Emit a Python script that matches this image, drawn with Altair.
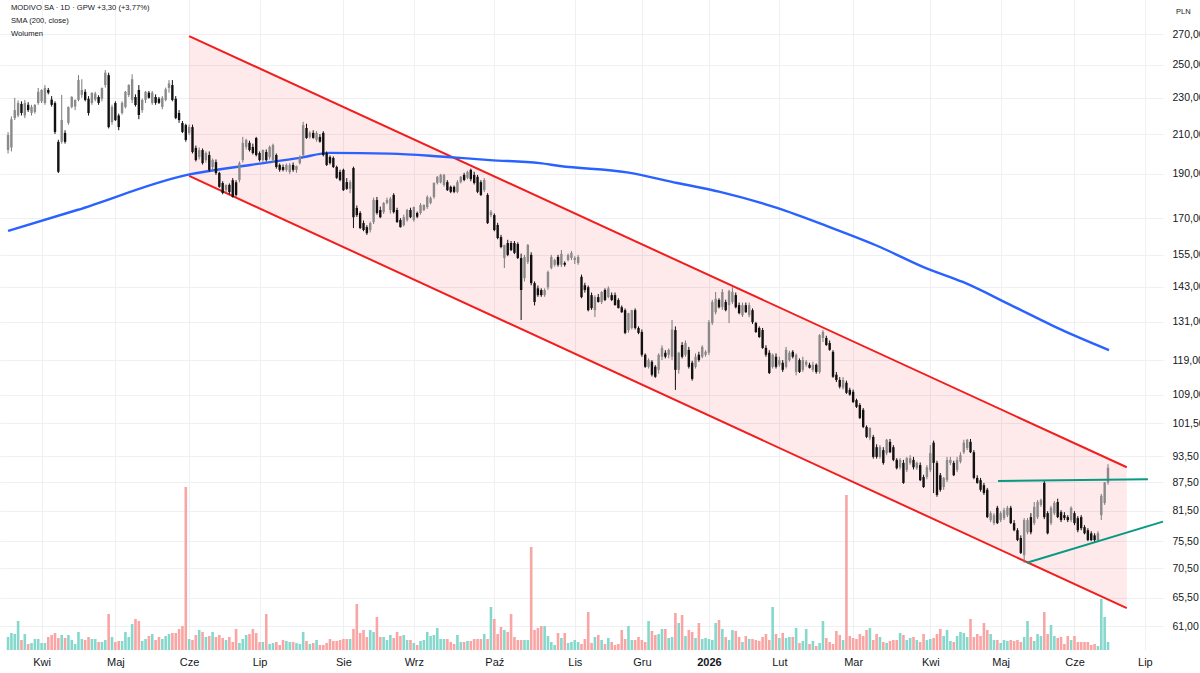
import json
import altair as alt
import pandas as pd

# ---------------- data ----------------
opens = [201.7,203,218.6,220,226.5,220,226,221.4,222,227,228,227,234.6,229,227,205.9,206,210.6,216,224.8,
225,228.8,231.7,233.5,229.5,227,229,230.5,229.5,237.5,243.5,216.4,227,220,221.4,224.8,231.7,228.8,230.5,234.6,
223,228.8,233,227,230.5,229.5,224.8,228.8,235.8,237.5,229.5,221.4,215.9,214.8,210.6,213.7,202.8,198.2,201.7,196.7,
199.2,193.3,195.7,190.4,185.7,182.4,184.8,187,186,187.1,196.7,203.3,205.4,203.3,207.9,200.2,196.7,200.7,198.2,196.7,
199.2,194.3,193.3,191.9,190.9,194.3,191.9,195.2,199.2,213.2,208.5,210.6,207,208.5,210.6,200.2,198.2,197.7,193.3,190.9,
191.9,186.1,183,192.8,174.4,172.2,167.9,166.2,165,168.3,177.9,173.5,172.6,176.6,173.5,180.2,173.5,169.2,167,169.2,
173.5,169.2,172.2,172.2,173.5,174.8,176.6,179.3,185.7,186,184.8,186.1,183.9,183.9,181.6,186.1,189.5,188.1,191.9,189.5,
188.6,186.1,182.4,180.2,171.3,171.3,167.1,162.1,153.8,159.7,159.7,159.7,159.3,153.8,146.2,152.3,155,144.4,142.5,141.9,
140.1,142.9,150,151.2,154.2,151.2,151.9,153,153.8,153,151.9,146.7,143.6,142.9,140.1,134.9,139.4,137.7,141.9,139.4,
140.1,140.1,138.4,135.9,134.9,128.3,129,134.9,129,127.7,120.6,117,118.5,117,116.1,120,121.2,120.6,120,128.3,
116.1,123.6,120.6,122.1,118.2,117,120.6,120,120.6,121.2,130.6,134.2,138.4,135.9,137.7,136.6,137.7,140.1,136.6,133.2,
136.6,133.2,134.9,130.6,129,128.3,122.7,121.2,117,120,117.6,118.2,117,119,121.5,115.5,119,116.1,117.6,117.6,
116.1,117.6,115.5,125.8,125.8,124.2,121.5,114.7,113.2,111,112.4,110.4,109.9,107.6,106.3,105,100.6,97.9,98.1,95.6,
93.3,94.9,94.2,96.9,95.6,92.6,90.9,91.9,90.3,91.9,92.6,90.7,91.4,88.7,88.7,90.3,96.7,91.9,89.1,86.5,
88,91.9,91.9,90.3,92.2,94.4,95.4,96.9,94.4,88.5,88,86.9,85.9,79.6,79,82.1,79.6,80,80.6,82.1,
79,77.6,76.1,72.9,77.2,80.2,79,80.2,82.7,87.4,81,79,81,83.3,81.2,80.6,80.2,79.6,81,80,
80.2,78.2,77.6,77,76.6,75.7,80.6,83.1,87.5]
highs = [211,219.5,230,228.5,228,228.8,227.5,226,226.5,235.8,235,237.5,235.8,231,228,207,231.7,212,225,231,
229,243.5,241,235,231,233,233.5,231.5,236,246.6,245,226,228,221,228,234,238,244,232,237.5,
229.5,234,234,234,232,230.5,231,236,240.5,240.5,231,223,217,215.5,215,215,204,203,202.5,201,
201,197.5,197,191,186.5,185,185.5,188,187,196,208.5,207.5,206.5,205,208.5,201,202,202,204,205,
200,195,194.5,195,195.2,195.5,194,199,216.5,215.5,211.5,212,211.5,210,211.5,201,199,198.5,194,192,
192.5,188,187,193.5,175.5,173,169,167,168.5,179,179.3,175,177,179,179.3,181,174.5,170,171.5,174,
174.5,175,172.8,176.5,176,180,179.5,186,189,190,190,187,184.5,184.5,187,189,190.5,191.5,192.5,191,
189.5,187,188,181,173.5,172,168,163,159,161,160.5,160.5,160,155.5,155,159.3,156,145,143.5,142.5,
142.5,149,155,153.5,155,156.9,152.5,155.5,156.5,154.5,155,147.5,144.5,143.5,141,140,140.5,141.5,142.5,143.2,
141,141,139,136.5,135.5,134,135,135.5,129.5,128.5,121,119.5,119,117.5,121,123.5,122,122.5,131.6,129.5,
121.5,124.5,125,123,118.8,121,121.5,123.5,122,131.6,138.4,141.2,139,142.2,138.5,142,142.9,141,137.5,137.5,
137.5,137.5,135.5,131,129.5,129,123.5,122,121,121,120,119,123,121.8,122,121,119.5,120,119,118.2,
118.5,118,127,128.3,126.5,125,122,115.5,114,114,113,111,110.5,108,106.8,105.5,101,100.5,98.6,96.3,
96.1,95.6,97.6,97.6,96.1,93,93,92.6,93.3,93.7,93.3,92.2,92,89.2,91.4,96.1,97.2,92.4,89.6,88.7,
93.3,93.3,92.4,93.3,94.4,97.4,97.6,97.6,94.9,89.1,88.5,87.4,86.3,81.4,81,82.5,81.4,82.1,82.5,82.5,
79.6,78,76.6,80,80,81,83.3,83.7,84,87.8,81.4,82.5,83.5,84,81.6,81.2,80.6,82.4,81.4,80.4,
80.6,78.6,78,77.4,77,77.4,85,87.6,91.6]
lows = [200,201,217.5,219,220,218.6,222,220,221,226,227,226,232,225,210,190.4,205,205,215,224,
223,228,230,228,220,226,228,226,228,236,213,215,217,212,220.5,224,230.5,227,225,218,
221.5,227,229.5,226,226,226.5,223.5,228,233,228,218,216,210.5,206,209.5,200,196,197,194.5,195.5,
191,192,189.5,183.5,180.5,181,180.5,179,179.5,186,195.5,202,201,199.5,198.5,196,195.5,196,197,195.5,
192.5,191,191.2,191,190,191,190.5,194.5,198,207.5,207.5,207.5,206,205.5,198.5,193.8,194.5,192.8,187.6,186.5,
182,182.5,181,165.8,170.5,165.4,164.5,163,164,167.5,171.5,170,171.8,176,172,172,168,166,166.5,168.5,
170,168.5,170,171.5,173,174,176,178.5,185,185.5,184,182,181,181,181,185.5,186.5,187.5,186.5,185,
181,179.7,181.5,167.5,170.4,164.5,161.2,157.6,150,154.5,156.5,155.3,153.4,131.6,145,151.5,143.6,136.5,139.5,139.5,
139.5,142,149.5,150.5,150.5,150.3,150.5,152.5,153,151.5,151.2,139,141,134.5,135,132.6,137.5,137,138,139,
138,136.5,135.5,134,127,127.5,128.5,128.5,127,120,116.7,116.5,114.2,113.8,115,119,119.5,119.5,119,110.4,
115,119.5,120,116.5,113,116.5,118.5,119.5,120,120.5,130,133.5,135.5,135,134.5,130.6,137,135.5,133.5,132.6,
134,132.5,130.3,127.4,125.8,122.4,120,114.9,116.5,116.5,117,115.5,116.5,118.5,119.5,114.5,115.2,115.5,117,116.5,
115.5,115,115,124.5,123.3,121.8,113.8,112.6,110.8,110.5,109.3,108.8,106.8,105.5,102.6,100.3,97.8,97.3,92.9,92.9,
92.9,91.5,93.7,94.2,92.3,90.4,90.4,87.2,89.8,91.5,90.4,90.3,87.8,86.3,88.2,89.8,85.2,84.4,85.5,85.9,
87.6,91.4,88.9,89.8,91.8,94,94.9,94.2,88.2,87.2,85.5,84.8,80,79.2,78.6,78.8,79.2,79.6,80.2,78.8,
77.4,75.5,73.1,71.5,76.8,76.8,78.6,79.8,82.3,79.8,76.8,78.6,80.6,80,79.2,79.6,79.2,79.2,78.6,77.2,
77.6,76.8,75.5,75.5,75.3,75.3,79.6,82.7,87]
closes = [209.5,218,223,227,221.4,227,223,224.8,225.9,233.5,234.6,235.8,233,226,211.1,191,217.5,205.9,224.8,230.5,
228.8,240.5,234.6,228.8,221.4,233,232.5,227.1,235.8,245,213.7,224.8,217.5,213.7,227.1,233.5,237.5,241,225.9,220.3,
228.8,233.5,230,233,227.1,227.1,230,235,238.5,228.8,218.6,217.5,211.1,206.9,213.7,200.7,196.7,201.7,195.2,200.2,
191.9,196.7,190.4,183.9,181.1,184.8,181.5,179.3,180.2,195.2,205.4,206.9,201.7,200.2,199.2,196.7,201.7,196.7,203.3,204.3,
193.3,191.9,191.9,194.3,194.3,191.9,193.8,198.2,214.8,207.9,210.6,208,210.6,206,199.2,194.3,195.2,193.3,188.1,187.1,
182.4,183,186.1,170.4,171.3,165.8,165,163.7,167.9,177.9,172.2,170.4,176.6,177.9,178.5,172.6,168.3,166.2,170.4,173.5,
170.4,174.8,170.6,175.7,175.7,179.3,178.8,185.7,188.6,189.5,189.5,182.4,181.6,181.6,186.1,188.6,187.1,190.9,187.5,185.7,
181.6,180.2,187.1,167.9,172.6,165,161.7,158.1,158.9,155,156.9,155.8,153.8,141.9,154.2,158.9,144.4,137.7,140.1,140.1,
141.9,148.5,154.2,153,151.2,155.4,151.2,155,155.8,153.8,154.2,139.4,141.9,134.9,135.6,139.4,137.7,141.2,138.4,142.5,
138.4,136.6,135.6,134.2,127.4,133.9,134.9,129,127.4,120.6,117,119,114.7,114.1,120.6,122.7,120,122.1,128.5,116.1,
121.2,120,124.2,117,113.5,120,119,123,121.5,130.9,137.7,138.8,135.9,141.2,134.9,141.5,141.2,135.9,133.9,136.6,
134.2,136.6,130.9,127.7,126.1,122.7,120.6,115.2,120.6,117,119,116.1,122.1,121.2,120,120.6,115.5,119,118.5,116.7,
117.6,115.5,126.7,127.7,123.6,122.1,114.1,113.2,111.3,113.2,109.6,109.1,107.1,105.8,102.9,100.6,98.1,100.3,93.3,93.3,
95.6,91.9,97.4,94.4,92.6,90.7,92.6,87.4,93,93,90.9,91.9,88,86.5,90.9,94.2,91.9,84.8,85.9,88.5,
92.6,92.6,89.1,92.6,93.7,96.7,97.4,94.4,88.5,87.4,85.9,85.2,80.2,81,80.6,79,81,81.6,82.1,79,
77.6,75.7,73.3,79.6,79.6,77.2,82.3,83.3,83.7,80.2,77,82.1,83.1,80.2,79.6,80,79.6,82.1,79,77.6,
78,77,75.7,75.7,75.7,77,84.6,87.5,90.8]
volumes = [13,17,16,29,10,16,6,7,11,11,7,7,13,15,17,12,
15,12,15,10,6,18,11,10,13,11,11,8,8,10,36,13,8,9,9,18,13,26,31,29,9,11,
14,16,10,13,11,14,
16,17,17,21,24,163,11,10,15,20,18,13,14,18,13,15,12,10,
13,8,21,7,11,15,16,21,17,8,8,36,6,7,8,5,10,9,8,8,7,6,18,9,
6,7,10,5,5,7,11,9,9,10,11,11,11,21,46,17,20,13,20,18,33,13,13,10,15,12,
18,14,15,10,10,7,5,9,10,18,14,
15,22,11,11,11,8,6,15,8,8,9,
9,11,11,11,16,11,43,31,16,23,20,
18,36,13,10,10,10,
10,103,20,22,24,24,14,8,5,17,12,
17,7,8,10,8,6,11,38,7,13,15,
10,6,12,8,5,6,20,11,24,10,10,13,10,
8,29,19,15,16,21,21,12,13,37,27,35,14,20,18,12,
27,11,12,11,10,27,30,21,13,10,20,19,13,8,14,11,
11,10,9,13,16,10,43,16,12,17,12,13,13,22,7,9,
21,6,9,4,7,29,12,8,6,19,15,10,155,14,12,11,16,14,20,22,10,16,13,8,7,9,
10,10,17,15,10,12,13,10,8,16,10,11,12,
16,21,14,20,9,8,14,18,17,13,31,13,16,14,
27,20,16,10,10,7,10,9,10,9,10,
8,13,29,13,9,16,14,38,16,25,14,12,13,6,14,10,
14,8,8,8,8,5,6,4,51,33,8]

month_ticks = [10, 32, 54, 75, 100, 121, 145, 169, 189, 209, 230, 252, 275, 296, 318, 339]
month_labels = ["Kwi", "Maj", "Cze", "Lip", "Sie", "Wrz", "Paź", "Lis", "Gru", "2026",
                "Lut", "Mar", "Kwi", "Maj", "Cze", "Lip"]
price_ticks = [61, 65.5, 70.5, 75.5, 81.5, 87.5, 93.5, 101.5, 109, 119, 131, 143, 155,
               170, 190, 210, 230, 250, 270]

sma_idx = [0, 20.6, 53.4, 72.2, 87.0, 96.0, 113.9, 128.8, 143.7, 158.6, 164.6, 184.6, 199.5,
           212.3, 229.3, 244.2, 260.0, 272.8, 284.7, 299.6, 311.6, 319.6, 328.3]
sma_val = [164.6, 173.5, 189.5, 194.3, 197.8, 200.3, 199.9, 198.5, 196.7, 195.2, 193.8, 190.7,
           185.7, 181.6, 174.4, 166.6, 158.1, 150.4, 144.8, 136.3, 129.7, 125.8, 122.0]

channel_idx = [54.0, 333.6]
channel_upper = [268.6, 90.9]
channel_lower = [189.0, 63.8]

tri_top_idx = [295.2, 339.9]
tri_top_val = [87.8, 88.2]
tri_bot_idx = [303.8, 344.4]
tri_bot_val = [71.5, 79.3]

header_lines = ["MODIVO SA · 1D · GPW  +3,30 (+3,77%)", "SMA (200, close)", "Wolumen"]

# ---------------- tables ----------------
N = len(closes)
candles = pd.DataFrame({"i": list(range(N)), "o": opens, "h": highs, "l": lows,
                        "c": closes, "vol": volumes[:N]})
sma_df = pd.DataFrame({"i": sma_idx, "v": sma_val})
chan_area = pd.DataFrame({"i": channel_idx, "up": channel_upper, "lo": channel_lower})
chan_lines = pd.DataFrame({
    "i": channel_idx + channel_idx,
    "v": channel_upper + channel_lower,
    "line": ["upper"] * 2 + ["lower"] * 2,
})
tri_df = pd.DataFrame({
    "i": tri_top_idx + tri_bot_idx,
    "v": tri_top_val + tri_bot_val,
    "line": ["top"] * 2 + ["bottom"] * 2,
})

FONT = "Liberation Sans"
TXT = "#131722"
GRID = "#eef0f4"
PLOT_W, PLOT_H = 1163, 650

x_scale = alt.Scale(domain=[-2.4, 344.4], nice=False, zero=False, padding=0)
label_expr = "{}[indexof({}, datum.value)]".format(
    json.dumps(month_labels, ensure_ascii=False), json.dumps(month_ticks))
x_axis = alt.Axis(values=month_ticks, labelExpr=label_expr, title=None, grid=True,
                  gridColor=GRID, gridWidth=1, domain=False, ticks=False,
                  labelPadding=6, labelFontSize=11, labelFont=FONT, labelColor=TXT,
                  labelFlush=False, labelOverlap=False,
                  labelFontWeight={"condition": {"test": "datum.value == 209", "value": "bold"},
                                   "value": "normal"})
y_scale = alt.Scale(type="log", domain=[57.43, 294.1], nice=False, zero=False, padding=0)
y_axis = alt.Axis(values=price_ticks, orient="right", title=None, grid=True, gridColor=GRID,
                  gridWidth=1, domain=False, ticks=False, labelPadding=9, labelFontSize=10.5,
                  labelFont=FONT, labelColor=TXT, labelAlign="left", labelOverlap=False,
                  labelFlush=False,
                  labelExpr="replace(format(datum.value, '.2f'), '.', ',')")


def X():
    return alt.X("i:Q", scale=x_scale, axis=x_axis)


def Y(field):
    return alt.Y(f"{field}:Q", scale=y_scale, axis=y_axis)


up_test = "datum.c >= datum.o"

volume = alt.Chart(candles).mark_bar(size=2.6).encode(
    x=X(),
    y=alt.Y("vol:Q", scale=alt.Scale(domain=[0, PLOT_H], nice=False, zero=True, padding=0),
            axis=None),
    color=alt.condition(up_test, alt.value("#86d8cd"), alt.value("#f9a5a4")),
)

area = alt.Chart(chan_area).mark_area(color="#f23645", opacity=0.11).encode(
    x=X(), y=Y("up"), y2="lo:Q")

chan = alt.Chart(chan_lines).mark_line(color="#f21d1d", strokeWidth=2).encode(
    x=X(), y=Y("v"), detail="line:N")

sma = alt.Chart(sma_df).mark_line(color="#2962ff", strokeWidth=2.4,
                                  interpolate="monotone").encode(x=X(), y=Y("v"))

wick = alt.Chart(candles).mark_rule(strokeWidth=1).encode(
    x=X(), y=Y("l"), y2="h:Q",
    color=alt.condition(up_test, alt.value("#7b7b7b"), alt.value("#111111")))

body = alt.Chart(candles).mark_bar(size=2.4).encode(
    x=X(), y=Y("o"), y2="c:Q",
    color=alt.condition(up_test, alt.value("#8a8a8a"), alt.value("#111111")))

tri = alt.Chart(tri_df).mark_line(color="#089981", strokeWidth=2).encode(
    x=X(), y=Y("v"), detail="line:N")

one = pd.DataFrame({"k": [0]})
texts = []
for n, line in enumerate(header_lines):
    texts.append(alt.Chart(one).mark_text(align="left", baseline="middle", font=FONT,
                                          fontSize=7.6, color=TXT).encode(
        x=alt.value(11), y=alt.value(8 + 13 * n), text=alt.value(line)))
pln = alt.Chart(one).mark_text(align="left", baseline="middle", font=FONT, fontSize=7.5,
                               color=TXT).encode(x=alt.value(1176), y=alt.value(12),
                                                 text=alt.value("PLN"))

price = alt.layer(area, chan, sma, wick, body, tri, *texts, pln)

chart = alt.layer(volume, price).resolve_scale(y="independent").properties(
    width=PLOT_W, height=PLOT_H,
    autosize=alt.AutoSizeParams(type="none"),
    padding={"left": 0, "top": 0, "right": 1200 - PLOT_W, "bottom": 673 - PLOT_H},
    background="white",
).configure_view(stroke=None)

chart.save("out.html", embed_options={"renderer": "svg", "actions": False})
